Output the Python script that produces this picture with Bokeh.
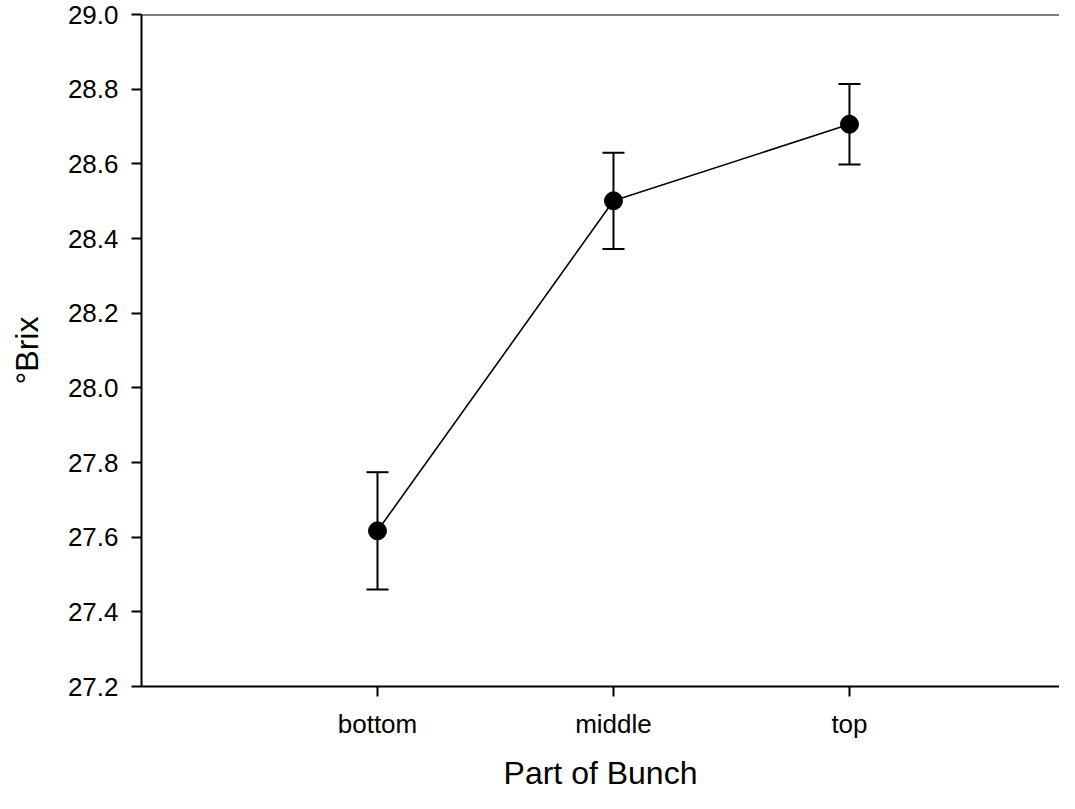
from bokeh.plotting import figure
from bokeh.models import (ColumnDataSource, Whisker, TeeHead, FixedTicker,
                          Span, PrintfTickFormatter, Range1d)
from bokeh.embed import file_html
from bokeh.resources import INLINE

parts = ["bottom", "middle", "top"]
positions = [1, 2, 3]
brix = [27.617, 28.501, 28.706]
err = [0.157, 0.129, 0.108]
y_ticks = [27.2, 27.4, 27.6, 27.8, 28.0, 28.2, 28.4, 28.6, 28.8, 29.0]

lower = [b - e for b, e in zip(brix, err)]
upper = [b + e for b, e in zip(brix, err)]
src = ColumnDataSource(dict(x=positions, y=brix, lower=lower, upper=upper))

FONT = "Liberation Sans"

p = figure(width=1059, height=793, output_backend="svg", toolbar_location=None,
           x_range=Range1d(0, 3.89), y_range=Range1d(27.2, 29.0),
           min_border_left=141, min_border_right=0, min_border_top=14,
           min_border_bottom=94)
p.outline_line_color = None
p.grid.visible = False
p.background_fill_color = "white"
p.border_fill_color = "white"

p.line("x", "y", source=src, line_color="black", line_width=1.6)
w = Whisker(base="x", lower="lower", upper="upper", source=src,
            line_color="black", line_width=2,
            upper_head=TeeHead(size=22, line_color="black", line_width=2),
            lower_head=TeeHead(size=22, line_color="black", line_width=2))
p.add_layout(w)
p.scatter("x", "y", source=src, size=18, fill_color="black", line_color="black")

p.add_layout(Span(location=29.0, dimension="width", line_color="black", line_width=2))

p.xaxis.ticker = FixedTicker(ticks=positions)
p.xaxis.major_label_overrides = {pos: lab for pos, lab in zip(positions, parts)}
p.yaxis.ticker = FixedTicker(ticks=y_ticks)
p.yaxis.formatter = PrintfTickFormatter(format="%.1f")

for ax in (p.xaxis[0], p.yaxis[0]):
    ax.axis_line_width = 2
    ax.axis_line_color = "black"
    ax.major_tick_line_width = 2
    ax.major_tick_line_color = "black"
    ax.major_tick_out = 10
    ax.major_tick_in = 0
    ax.minor_tick_line_color = None
    ax.major_label_text_font = FONT
    ax.major_label_text_font_size = "26px"
    ax.major_label_text_color = "black"
    ax.axis_label_text_font = FONT
    ax.axis_label_text_font_size = "32px"
    ax.axis_label_text_font_style = "normal"
    ax.axis_label_text_color = "black"

p.xaxis.axis_label = "Part of Bunch"
p.yaxis.axis_label = "°Brix"
p.xaxis.major_label_standoff = 12
p.yaxis.major_label_standoff = 13
p.xaxis.axis_label_standoff = 13
p.yaxis.axis_label_standoff = 20

open("out.html", "w").write(file_html(p, INLINE))
